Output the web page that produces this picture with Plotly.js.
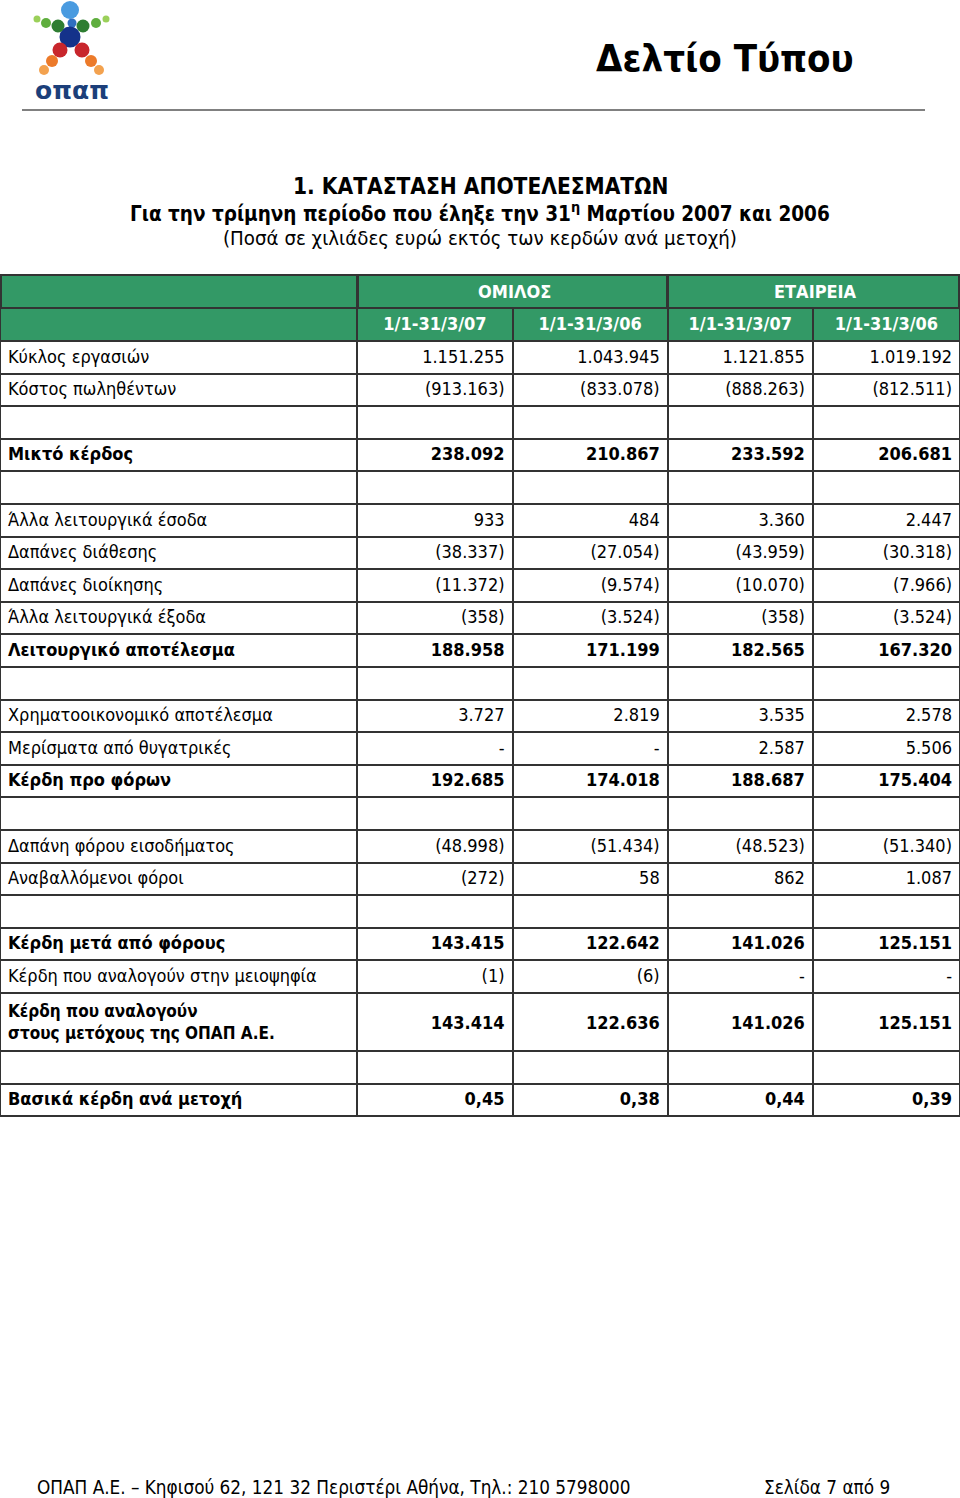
<!DOCTYPE html>
<html>
<head>
<meta charset="utf-8">
<script src="https://cdn.plot.ly/plotly-3.0.1.min.js"></script>
<style>html,body{margin:0;padding:0;background:#fff;}#chart{width:960px;height:1498px;}</style>
</head>
<body>
<div id="chart"></div>
<script>
// ---------- DATA ----------
var groupHeaders = ["ΟΜΙΛΟΣ", "ΕΤΑΙΡΕΙΑ"];
var periodHeaders = ["1/1-31/3/07", "1/1-31/3/06", "1/1-31/3/07", "1/1-31/3/06"];
var rowLabels = [
  "Κύκλος εργασιών", "Κόστος πωληθέντων", "", "Μικτό κέρδος", "",
  "Άλλα λειτουργικά έσοδα", "Δαπάνες διάθεσης", "Δαπάνες διοίκησης", "Άλλα λειτουργικά έξοδα",
  "Λειτουργικό αποτέλεσμα", "", "Χρηματοοικονομικό αποτέλεσμα", "Μερίσματα από θυγατρικές",
  "Κέρδη προ φόρων", "", "Δαπάνη φόρου εισοδήματος", "Αναβαλλόμενοι φόροι", "",
  "Κέρδη μετά από φόρους", "Κέρδη που αναλογούν στην μειοψηφία",
  "Κέρδη που αναλογούν<br>στους μετόχους της ΟΠΑΠ Α.Ε.", "", "Βασικά κέρδη ανά μετοχή"
];
var boldRows = [0,0,0,1,0,0,0,0,0,1,0,0,0,1,0,0,0,0,1,0,1,0,1];
var groupQ107 = ["1.151.255","(913.163)","","238.092","","933","(38.337)","(11.372)","(358)","188.958","","3.727","-","192.685","","(48.998)","(272)","","143.415","(1)","143.414","","0,45"];
var groupQ106 = ["1.043.945","(833.078)","","210.867","","484","(27.054)","(9.574)","(3.524)","171.199","","2.819","-","174.018","","(51.434)","58","","122.642","(6)","122.636","","0,38"];
var companyQ107 = ["1.121.855","(888.263)","","233.592","","3.360","(43.959)","(10.070)","(358)","182.565","","3.535","2.587","188.687","","(48.523)","862","","141.026","-","141.026","","0,44"];
var companyQ106 = ["1.019.192","(812.511)","","206.681","","2.447","(30.318)","(7.966)","(3.524)","167.320","","2.578","5.506","175.404","","(51.340)","1.087","","125.151","-","125.151","","0,39"];

// ---------- LAYOUT HELPERS ----------
var W = 960, H = 1498;
var FONT = "DejaVu Sans Condensed, DejaVu Sans, sans-serif";
var GREEN = "#339966", LINE = "#333333";
var colW = [357, 155, 155, 145, 147];
var BASE = 18;
function px(x){ return x / W; }
function py(y){ return 1 - y / H; }
var weights = boldRows.map(function(v){ return v ? "bold" : "normal"; });
// rows whose label spans two lines: numbers are pushed down to sit mid-row
function isTall(i){ return rowLabels[i].indexOf("<br>") !== -1; }
var labelSizes = rowLabels.map(function(l, i){ return isTall(i) ? 17 : BASE; });
function numCol(arr){
  return arr.map(function(v, i){
    return isTall(i) ? '<span style="font-size:30px">\u00A0</span><span style="font-size:' + BASE + 'px">' + v + '</span><br>' : v;
  });
}

var tableTop = 308;
var trace = {
  type: "table",
  domain: {x: [0, 1], y: [py(1300), py(tableTop)]},
  columnwidth: colW,
  header: {
    values: [""].concat(periodHeaders),
    align: "center",
    height: 33,
    fill: {color: GREEN},
    line: {color: LINE, width: 2},
    font: {family: FONT, size: BASE, color: "#ffffff", weight: "bold"}
  },
  cells: {
    values: [rowLabels, numCol(groupQ107), numCol(groupQ106), numCol(companyQ107), numCol(companyQ106)],
    align: ["left", "right", "right", "right", "right"],
    height: 32.6,
    fill: {color: "#ffffff"},
    line: {color: LINE, width: 2},
    font: {family: FONT, color: "#000000",
           size: [labelSizes, BASE, BASE, BASE, BASE],
           weight: [weights, weights, weights, weights, weights]}
  }
};

var shapes = [];
var annotations = [];
var edges = [0];
colW.forEach(function(w){ edges.push(edges[edges.length-1] + w); });
var groupSpans = [[edges[0], edges[1]], [edges[1], edges[3]], [edges[3], edges[5]]];
groupSpans.forEach(function(s, i){
  shapes.push({type: "rect", xref: "paper", yref: "paper",
    x0: px(s[0] + 1), x1: px(s[1]), y0: py(tableTop), y1: py(275),
    fillcolor: GREEN, line: {color: LINE, width: 2}, layer: "above"});
  if (i > 0) {
    annotations.push({xref: "paper", yref: "paper", x: px((s[0] + s[1]) / 2 + 2), y: py(291.5),
      text: "<b>" + groupHeaders[i-1] + "</b>", showarrow: false, xanchor: "center", yanchor: "middle",
      font: {family: FONT, size: BASE, color: "#ffffff"}});
  }
});

// page header
shapes.push({type: "line", xref: "paper", yref: "paper", x0: px(22), x1: px(925), y0: py(110), y1: py(110),
  line: {color: "#808080", width: 2}});
annotations.push({xref: "paper", yref: "paper", x: px(725), y: py(58), text: "<b>Δελτίο Τύπου</b>",
  showarrow: false, xanchor: "center", yanchor: "middle", font: {family: FONT, size: 38, color: "#000000"}});

// logo balls
var logoBalls = [
  [70, 10, 9, "#4a9be0"], [72, 23, 4.5, "#2f6fc0"], [70, 37, 10.5, "#14328a"],
  [37, 19, 3.5, "#9bd05a"], [46, 23, 5, "#5fae3e"], [58, 26, 6.5, "#2e7d32"],
  [83, 26, 6.5, "#2e7d32"], [96, 23, 5, "#5fae3e"], [106, 19, 3.5, "#9bd05a"],
  [60, 50, 7.5, "#c8262c"], [82, 50, 7.5, "#c8262c"],
  [52, 61, 6, "#ec7a2a"], [91, 61, 6, "#ec7a2a"],
  [44, 70, 5, "#f3a24f"], [99, 70, 5, "#f3a24f"]
];
logoBalls.forEach(function(c){
  shapes.push({type: "circle", xref: "paper", yref: "paper",
    x0: px(c[0]-c[2]), x1: px(c[0]+c[2]), y0: py(c[1]+c[2]), y1: py(c[1]-c[2]),
    fillcolor: c[3], line: {width: 0}});
});
annotations.push({xref: "paper", yref: "paper", x: px(72), y: py(91), text: "<b>οπαπ</b>",
  showarrow: false, xanchor: "center", yanchor: "middle", font: {family: "DejaVu Sans, sans-serif", size: 25, color: "#1c3f7a"}});

// titles
annotations.push({xref: "paper", yref: "paper", x: px(480), y: py(186), text: "<b>1. ΚΑΤΑΣΤΑΣΗ ΑΠΟΤΕΛΕΣΜΑΤΩΝ</b>",
  showarrow: false, xanchor: "center", yanchor: "middle", font: {family: FONT, size: 22.5, color: "#000000"}});
annotations.push({xref: "paper", yref: "paper", x: px(480), y: py(212), text: "<b>Για την τρίμηνη περίοδο που έληξε την 31<sup>η</sup> Μαρτίου 2007 και 2006</b>",
  showarrow: false, xanchor: "center", yanchor: "middle", font: {family: FONT, size: 20.5, color: "#000000"}});
annotations.push({xref: "paper", yref: "paper", x: px(480), y: py(238), text: "(Ποσά σε χιλιάδες ευρώ εκτός των κερδών ανά μετοχή)",
  showarrow: false, xanchor: "center", yanchor: "middle", font: {family: FONT, size: 20.3, color: "#000000"}});

// footer
annotations.push({xref: "paper", yref: "paper", x: px(35), y: py(1487), text: "ΟΠΑΠ Α.Ε. – Κηφισού 62, 121 32 Περιστέρι Αθήνα, Τηλ.: 210 5798000",
  showarrow: false, xanchor: "left", yanchor: "middle", font: {family: FONT, size: 18.8, color: "#000000"}});
annotations.push({xref: "paper", yref: "paper", x: px(762), y: py(1487), text: "Σελίδα 7 από 9",
  showarrow: false, xanchor: "left", yanchor: "middle", font: {family: FONT, size: 18.8, color: "#000000"}});

var layout = {
  width: W, height: H,
  margin: {l: 0, r: 0, t: 0, b: 0},
  paper_bgcolor: "#ffffff",
  showlegend: false,
  shapes: shapes,
  annotations: annotations
};
Plotly.newPlot("chart", [trace], layout, {displayModeBar: false, staticPlot: true});
</script>
</body>
</html>
